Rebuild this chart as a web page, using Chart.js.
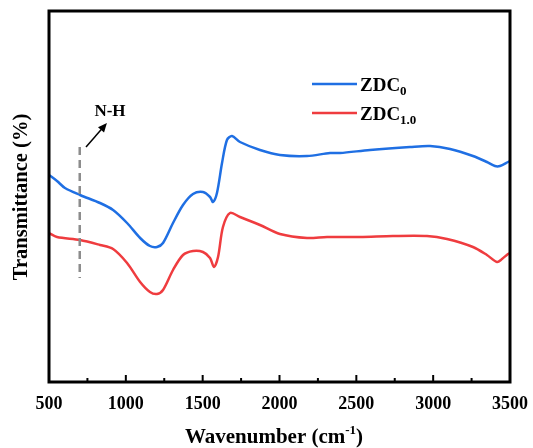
<!DOCTYPE html>
<html>
<head>
<meta charset="utf-8">
<script src="https://cdn.jsdelivr.net/npm/chart.js@4.4.0/dist/chart.umd.min.js"></script>
<style>
  html, body { margin: 0; padding: 0; background: #fff; }
  #wrap { width: 533px; height: 448px; }
</style>
</head>
<body>
<div id="wrap"><canvas id="c" width="533" height="448"></canvas></div>
<script>
// FTIR spectra — ZDC0 / ZDC1.0

var FONT = "'Liberation Serif', 'Times New Roman', serif";
var BLUE = "#1f6fe3";
var RED  = "#ef3c3f";

// ZDC0 (azul)
var blueWn = [500, 552, 604, 702, 832, 917, 1008, 1093, 1157, 1203, 1242, 1307, 1372, 1437, 1502, 1548, 1567, 1593, 1626, 1658, 1691, 1743, 1873, 2003, 2179, 2329, 2394, 2589, 2849, 2980, 3110, 3259, 3350, 3402, 3435, 3487, 3500];
var blueT  = [207, 201, 194, 187, 179, 172, 159, 144, 136, 135, 139, 159, 177, 188, 190, 185, 180, 189, 219, 242, 246, 240, 232, 227, 226, 229, 229, 232, 235, 236, 233, 226, 220, 216, 216, 220, 221];

// ZDC1.0 (vermelho)
var redWn = [500, 552, 702, 832, 917, 1008, 1093, 1157, 1203, 1242, 1307, 1372, 1437, 1502, 1548, 1574, 1600, 1632, 1678, 1743, 1873, 2003, 2179, 2309, 2524, 2738, 2960, 3090, 3259, 3350, 3416, 3448, 3487, 3500];
var redT  = [149, 145, 142, 137, 133, 119, 100, 90, 88, 92, 112, 127, 131, 130, 124, 115, 125, 155, 169, 165, 157, 148, 144, 145, 145, 146, 146, 143, 135, 127, 120, 123, 128, 129];

var xTicks = [500, 1000, 1500, 2000, 2500, 3000, 3500];

// marcação N-H (valores nos eixos do gráfico)
var nhLineX   = 700;
var nhLineY   = [235, 104];
var nhArrowX  = [741, 877];
var nhArrowY  = [235, 259];
var nhLabelAt = [897, 270];

function pts(xs, ys) {
  return xs.map(function(x, i) { return { x: x, y: ys[i] }; });
}

// moldura, ticks internos, anotações, legenda e títulos
var decor = {
  id: "decor",
  afterDraw: function(chart) {
    var ctx = chart.ctx, a = chart.chartArea;
    var xs = chart.scales.x, ys = chart.scales.y;
    ctx.save();

    // ticks para dentro
    ctx.strokeStyle = "#000";
    ctx.lineWidth = 2;
    xs.ticks.forEach(function(t, i) {
      var px = xs.getPixelForValue(t.value);
      ctx.beginPath(); ctx.moveTo(px, a.bottom); ctx.lineTo(px, a.bottom - 7); ctx.stroke();
      if (i < xs.ticks.length - 1) {
        var pm = xs.getPixelForValue(t.value + 250);
        ctx.beginPath(); ctx.moveTo(pm, a.bottom); ctx.lineTo(pm, a.bottom - 4); ctx.stroke();
      }
    });

    // moldura
    ctx.lineWidth = 3;
    ctx.strokeRect(a.left, a.top, a.right - a.left, a.bottom - a.top);

    // linha tracejada N-H
    ctx.strokeStyle = "#8c8c8c";
    ctx.lineWidth = 2.5;
    ctx.setLineDash([8, 5]);
    var lx = xs.getPixelForValue(nhLineX);
    ctx.beginPath();
    ctx.moveTo(lx, ys.getPixelForValue(nhLineY[0]));
    ctx.lineTo(lx, ys.getPixelForValue(nhLineY[1]));
    ctx.stroke();
    ctx.setLineDash([]);

    // seta
    var x0 = xs.getPixelForValue(nhArrowX[0]), y0 = ys.getPixelForValue(nhArrowY[0]);
    var x1 = xs.getPixelForValue(nhArrowX[1]), y1 = ys.getPixelForValue(nhArrowY[1]);
    var ang = Math.atan2(y1 - y0, x1 - x0);
    ctx.strokeStyle = "#000"; ctx.fillStyle = "#000"; ctx.lineWidth = 1.5;
    ctx.beginPath(); ctx.moveTo(x0, y0); ctx.lineTo(x1 - 6 * Math.cos(ang), y1 - 6 * Math.sin(ang)); ctx.stroke();
    ctx.beginPath();
    ctx.moveTo(x1, y1);
    ctx.lineTo(x1 - 9 * Math.cos(ang) + 4 * Math.sin(ang), y1 - 9 * Math.sin(ang) - 4 * Math.cos(ang));
    ctx.lineTo(x1 - 9 * Math.cos(ang) - 4 * Math.sin(ang), y1 - 9 * Math.sin(ang) + 4 * Math.cos(ang));
    ctx.closePath(); ctx.fill();

    ctx.font = "bold 17px " + FONT;
    ctx.textAlign = "center"; ctx.textBaseline = "middle";
    ctx.fillText("N-H", xs.getPixelForValue(nhLabelAt[0]), ys.getPixelForValue(nhLabelAt[1]));

    // legenda
    var items = [
      { color: BLUE, name: "ZDC", sub: "0" },
      { color: RED,  name: "ZDC", sub: "1.0" }
    ];
    var lgX = a.left + 263, lgY = a.top + 73;
    items.forEach(function(it, i) {
      var yy = lgY + i * 29;
      ctx.strokeStyle = it.color; ctx.lineWidth = 2.5;
      ctx.beginPath(); ctx.moveTo(lgX, yy); ctx.lineTo(lgX + 45, yy); ctx.stroke();
      ctx.fillStyle = "#000";
      ctx.textAlign = "left"; ctx.textBaseline = "alphabetic";
      ctx.font = "bold 19px " + FONT;
      ctx.fillText(it.name, lgX + 48, yy + 7);
      var w = ctx.measureText(it.name).width;
      ctx.font = "bold 13px " + FONT;
      ctx.fillText(it.sub, lgX + 48 + w, yy + 11);
    });

    // título do eixo X com sobrescrito
    ctx.fillStyle = "#000";
    ctx.textBaseline = "alphabetic"; ctx.textAlign = "left";
    var fMain = "bold 21px " + FONT, fSup = "bold 13px " + FONT;
    ctx.font = fMain; var w1 = ctx.measureText("Wavenumber (cm").width, w3 = ctx.measureText(")").width;
    ctx.font = fSup;  var w2 = ctx.measureText("-1").width;
    var cx = 274, base = 443;
    var sx = cx - (w1 + w2 + w3) / 2;
    ctx.font = fMain; ctx.fillText("Wavenumber (cm", sx, base);
    ctx.font = fSup;  ctx.fillText("-1", sx + w1, base - 9);
    ctx.font = fMain; ctx.fillText(")", sx + w1 + w2, base);

    // título do eixo Y
    ctx.save();
    ctx.translate(22, 197);
    ctx.rotate(-Math.PI / 2);
    ctx.textAlign = "center"; ctx.textBaseline = "middle";
    ctx.font = "bold 20.5px " + FONT;
    ctx.fillText("Transmittance (%)", 0, 0);
    ctx.restore();

    ctx.restore();
  }
};

new Chart(document.getElementById("c"), {
  type: "line",
  data: {
    datasets: [
      { label: "ZDC0",   data: pts(blueWn, blueT), borderColor: BLUE, borderWidth: 2.5, pointRadius: 0, tension: 0.3 },
      { label: "ZDC1.0", data: pts(redWn, redT),   borderColor: RED,  borderWidth: 2.5, pointRadius: 0, tension: 0.3 }
    ]
  },
  options: {
    responsive: false,
    animation: false,
    devicePixelRatio: 1,
    layout: { padding: { left: 0, right: 23, top: 11, bottom: 0 } },
    plugins: { legend: { display: false }, tooltip: { enabled: false } },
    scales: {
      x: {
        type: "linear", min: 500, max: 3500,
        afterBuildTicks: function(s) { s.ticks = xTicks.map(function(v) { return { value: v }; }); },
        afterFit: function(s) { s.height = 66; s.paddingLeft = 0; s.paddingRight = 0; },
        grid: { display: false, drawTicks: false },
        border: { display: false },
        ticks: {
          padding: 12, color: "#000", maxRotation: 0,
          font: { family: FONT, size: 18, weight: "bold" },
          callback: function(v) { return String(v); }
        }
      },
      y: {
        min: 0, max: 371,
        afterFit: function(s) { s.width = 49; },
        grid: { display: false, drawTicks: false },
        border: { display: false },
        ticks: { display: false }
      }
    }
  },
  plugins: [decor]
});
</script>
</body>
</html>
